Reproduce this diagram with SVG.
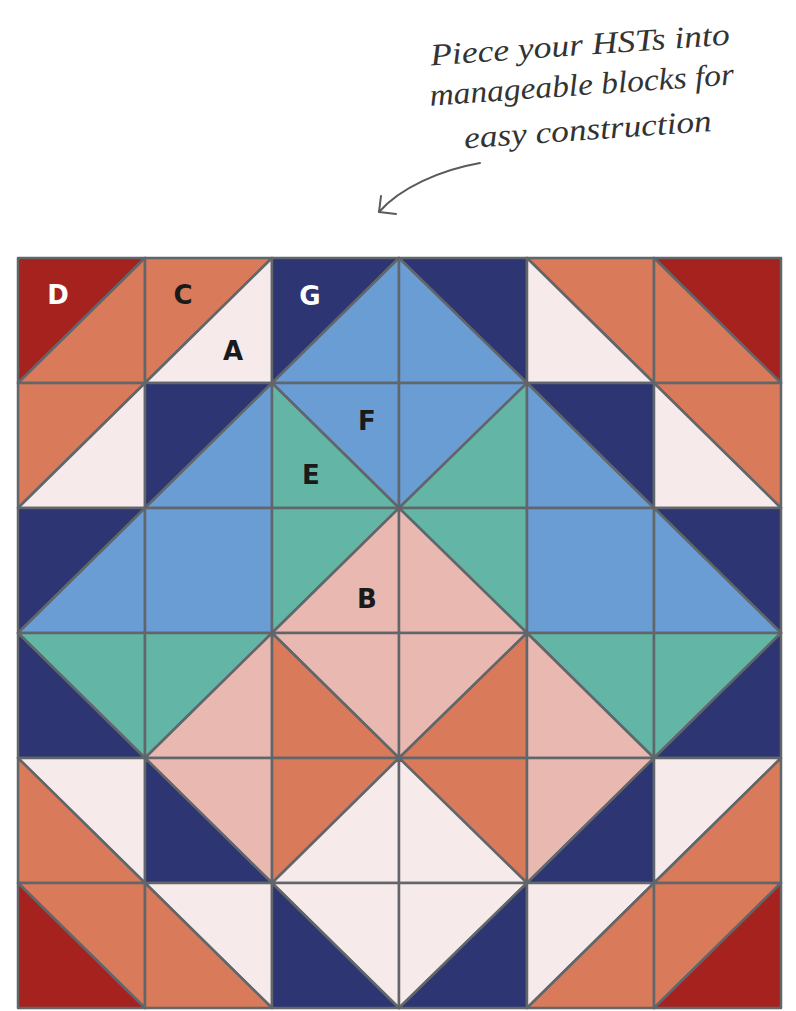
<svg xmlns="http://www.w3.org/2000/svg" width="796" height="1011" viewBox="0 0 796 1011">
<style>
.t{stroke:#61666b;stroke-width:2.5;stroke-linejoin:round}
.r{fill:#a5221f}.o{fill:#d97a5a}.p{fill:#f6eaea}.n{fill:#2d3572}.b{fill:#6a9dd4}.g{fill:#63b6a5}.s{fill:#e9b8b0}
.lbl{font-family:"DejaVu Sans","Liberation Sans",sans-serif;font-weight:bold;font-size:26px;text-anchor:middle}
.hw{font-family:"Liberation Serif","DejaVu Serif",serif;font-style:italic;font-size:31px;fill:#333333;text-anchor:middle}
</style>
<rect width="796" height="1011" fill="#ffffff"/>
<g id="note" transform="rotate(-4 583 90)">
<text class="hw" x="583" y="55" textLength="300" lengthAdjust="spacingAndGlyphs">Piece your HSTs into</text>
<text class="hw" x="582" y="95" textLength="305" lengthAdjust="spacingAndGlyphs">manageable blocks for</text>
<text class="hw" x="585" y="140" textLength="248" lengthAdjust="spacingAndGlyphs">easy construction</text>
</g>
<g id="connectors" fill="none" stroke="#5a5a5a" stroke-width="2" stroke-linecap="round" stroke-linejoin="round">
<path d="M480 163 C440 170 400 188 379 212"/>
<path d="M381 196 L379 212 L396 214"/>
</g>
<g id="r0">
<g id="c00"><polygon class="t r" points="18,258 145,258 18,383"/><polygon class="t o" points="145,258 145,383 18,383"/></g>
<g id="c01"><polygon class="t o" points="145,258 272,258 145,383"/><polygon class="t p" points="272,258 272,383 145,383"/></g>
<g id="c02"><polygon class="t n" points="272,258 399,258 272,383"/><polygon class="t b" points="399,258 399,383 272,383"/></g>
<g id="c03"><polygon class="t n" points="399,258 527,258 527,383"/><polygon class="t b" points="399,258 527,383 399,383"/></g>
<g id="c04"><polygon class="t o" points="527,258 654,258 654,383"/><polygon class="t p" points="527,258 654,383 527,383"/></g>
<g id="c05"><polygon class="t r" points="654,258 781,258 781,383"/><polygon class="t o" points="654,258 781,383 654,383"/></g>
</g>
<g id="r1">
<g id="c10"><polygon class="t o" points="18,383 145,383 18,508"/><polygon class="t p" points="145,383 145,508 18,508"/></g>
<g id="c11"><polygon class="t n" points="145,383 272,383 145,508"/><polygon class="t b" points="272,383 272,508 145,508"/></g>
<g id="c12"><polygon class="t b" points="272,383 399,383 399,508"/><polygon class="t g" points="272,383 399,508 272,508"/></g>
<g id="c13"><polygon class="t b" points="399,383 527,383 399,508"/><polygon class="t g" points="527,383 527,508 399,508"/></g>
<g id="c14"><polygon class="t n" points="527,383 654,383 654,508"/><polygon class="t b" points="527,383 654,508 527,508"/></g>
<g id="c15"><polygon class="t o" points="654,383 781,383 781,508"/><polygon class="t p" points="654,383 781,508 654,508"/></g>
</g>
<g id="r2">
<g id="c20"><polygon class="t n" points="18,508 145,508 18,633"/><polygon class="t b" points="145,508 145,633 18,633"/></g>
<g id="c21"><rect class="t b" x="145" y="508" width="127" height="125"/></g>
<g id="c22"><polygon class="t g" points="272,508 399,508 272,633"/><polygon class="t s" points="399,508 399,633 272,633"/></g>
<g id="c23"><polygon class="t g" points="399,508 527,508 527,633"/><polygon class="t s" points="399,508 527,633 399,633"/></g>
<g id="c24"><rect class="t b" x="527" y="508" width="127" height="125"/></g>
<g id="c25"><polygon class="t n" points="654,508 781,508 781,633"/><polygon class="t b" points="654,508 781,633 654,633"/></g>
</g>
<g id="r3">
<g id="c30"><polygon class="t g" points="18,633 145,633 145,758"/><polygon class="t n" points="18,633 145,758 18,758"/></g>
<g id="c31"><polygon class="t g" points="145,633 272,633 145,758"/><polygon class="t s" points="272,633 272,758 145,758"/></g>
<g id="c32"><polygon class="t s" points="272,633 399,633 399,758"/><polygon class="t o" points="272,633 399,758 272,758"/></g>
<g id="c33"><polygon class="t s" points="399,633 527,633 399,758"/><polygon class="t o" points="527,633 527,758 399,758"/></g>
<g id="c34"><polygon class="t g" points="527,633 654,633 654,758"/><polygon class="t s" points="527,633 654,758 527,758"/></g>
<g id="c35"><polygon class="t g" points="654,633 781,633 654,758"/><polygon class="t n" points="781,633 781,758 654,758"/></g>
</g>
<g id="r4">
<g id="c40"><polygon class="t p" points="18,758 145,758 145,883"/><polygon class="t o" points="18,758 145,883 18,883"/></g>
<g id="c41"><polygon class="t s" points="145,758 272,758 272,883"/><polygon class="t n" points="145,758 272,883 145,883"/></g>
<g id="c42"><polygon class="t o" points="272,758 399,758 272,883"/><polygon class="t p" points="399,758 399,883 272,883"/></g>
<g id="c43"><polygon class="t o" points="399,758 527,758 527,883"/><polygon class="t p" points="399,758 527,883 399,883"/></g>
<g id="c44"><polygon class="t s" points="527,758 654,758 527,883"/><polygon class="t n" points="654,758 654,883 527,883"/></g>
<g id="c45"><polygon class="t p" points="654,758 781,758 654,883"/><polygon class="t o" points="781,758 781,883 654,883"/></g>
</g>
<g id="r5">
<g id="c50"><polygon class="t o" points="18,883 145,883 145,1008"/><polygon class="t r" points="18,883 145,1008 18,1008"/></g>
<g id="c51"><polygon class="t p" points="145,883 272,883 272,1008"/><polygon class="t o" points="145,883 272,1008 145,1008"/></g>
<g id="c52"><polygon class="t p" points="272,883 399,883 399,1008"/><polygon class="t n" points="272,883 399,1008 272,1008"/></g>
<g id="c53"><polygon class="t p" points="399,883 527,883 399,1008"/><polygon class="t n" points="527,883 527,1008 399,1008"/></g>
<g id="c54"><polygon class="t p" points="527,883 654,883 527,1008"/><polygon class="t o" points="654,883 654,1008 527,1008"/></g>
<g id="c55"><polygon class="t o" points="654,883 781,883 654,1008"/><polygon class="t r" points="781,883 781,1008 654,1008"/></g>
</g>
<g id="labels">
<text class="lbl" x="58" y="304" fill="#ffffff">D</text>
<text class="lbl" x="183" y="304" fill="#1a1a1a">C</text>
<text class="lbl" x="233" y="360" fill="#1a1a1a">A</text>
<text class="lbl" x="310" y="305" fill="#ffffff">G</text>
<text class="lbl" x="367" y="430" fill="#1a1a1a">F</text>
<text class="lbl" x="311" y="484" fill="#1a1a1a">E</text>
<text class="lbl" x="367" y="608" fill="#1a1a1a">B</text>
</g>
</svg>
